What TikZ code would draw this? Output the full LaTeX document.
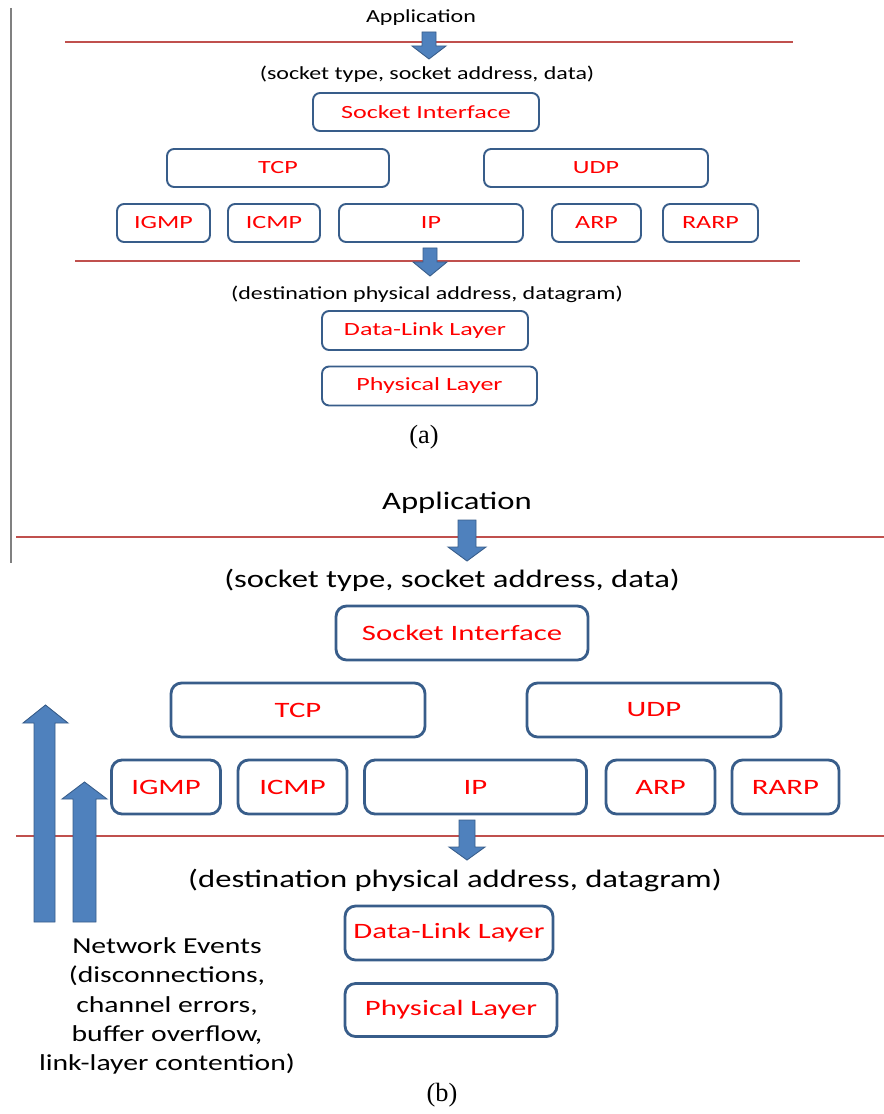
\documentclass[tikz,border=0pt]{standalone}
\usepackage{fontspec}
\setmainfont{Liberation Serif}
\newfontfamily\txtfont{Carlito}[FakeStretch=1.3]
\newfontfamily\boxfont{Carlito}[FakeStretch=1.4]
\definecolor{boxblue}{RGB}{56,93,138}
\definecolor{arrowblue}{RGB}{79,129,189}
\definecolor{arrowedge}{RGB}{56,93,138}
\definecolor{linered}{RGB}{192,80,77}
\tikzset{
  plaina/.style={font=\txtfont\fontsize{10.5}{12}\selectfont},
  plainb/.style={font=\txtfont\fontsize{14.3}{16.7}\selectfont},
  layera/.style={draw=boxblue, line width=1.1pt, rounded corners=4pt, text=red,
    minimum height=0.76cm, inner sep=1pt, font=\boxfont\fontsize{10.6}{12}\selectfont},
  layerb/.style={draw=boxblue, line width=1.6pt, rounded corners=6pt, text=red,
    minimum height=1.08cm, inner sep=1pt, font=\boxfont\fontsize{12.5}{15}\selectfont},
  sepline/.style={linered, line width=1.6pt},
  blockarrow/.style={fill=arrowblue, draw=arrowedge, line width=0.5pt},
  caption/.style={font=\fontsize{15}{17}\selectfont}
}
\begin{document}
\begin{tikzpicture}[x=0.02cm, y=-0.02cm, >=latex]
\useasboundingbox (0,0) rectangle (884,1114);

% (a)
\draw[gray, line width=0.9pt] (11,8) -- (11,563);
\node[plaina] (appA) at (421,18) {Application};
\draw[sepline] (65,42) -- (793,42);
\draw[blockarrow] (422,32) -- (436,32) -- (436,46) -- (446,46) -- (429,59) -- (412,46) -- (422,46) -- cycle;
\node[plaina] (sockA) at (427,74) {(socket type, socket address, data)};
\node[layera, minimum width=4.52cm] (siA) at (426,112) {Socket Interface};
\node[layera, minimum width=4.44cm] (tcpA) at (278,168) {TCP};
\node[layera, minimum width=4.48cm] (udpA) at (596,168) {UDP};
\node[layera, minimum width=1.86cm] (igmpA) at (163.5,223) {IGMP};
\node[layera, minimum width=1.84cm] (icmpA) at (274,223) {ICMP};
\node[layera, minimum width=3.68cm] (ipA) at (431,223) {IP};
\node[layera, minimum width=1.78cm] (arpA) at (596.5,223) {ARP};
\node[layera, minimum width=1.90cm] (rarpA) at (710.5,223) {RARP};
\draw[sepline] (75,261) -- (800,261);
\draw[blockarrow] (423,248) -- (437,248) -- (437,262) -- (447,262) -- (430,276) -- (413,262) -- (423,262) -- cycle;
\node[plaina] (destA) at (427,294) {(destination physical address, datagram)};
\node[layera, minimum width=4.12cm, minimum height=0.78cm] (dlA) at (425,330.5) {Data-Link Layer};
\node[layera, minimum width=4.30cm, minimum height=0.78cm] (physA) at (429.5,386) {Physical Layer};
\node[caption] (capA) at (424,437) {(a)};

% (b)
\node[plainb] (appB) at (457,503) {Application};
\draw[sepline] (16,537) -- (884,537);
\draw[blockarrow] (458,520) -- (476,520) -- (476,547) -- (486,547) -- (467,561) -- (448,547) -- (458,547) -- cycle;
\node[plainb] (sockB) at (452,580) {(socket type, socket address, data)};
\node[layerb, minimum width=5.04cm] (siB) at (462,633) {Socket Interface};
\node[layerb, minimum width=5.08cm] (tcpB) at (298,710) {TCP};
\node[layerb, minimum width=5.08cm] (udpB) at (654,710) {UDP};
\node[layerb, minimum width=2.18cm] (igmpB) at (166,787) {IGMP};
\node[layerb, minimum width=2.18cm] (icmpB) at (292.5,787) {ICMP};
\node[layerb, minimum width=4.44cm] (ipB) at (475.5,787) {IP};
\node[layerb, minimum width=2.18cm] (arpB) at (660.5,787) {ARP};
\node[layerb, minimum width=2.14cm] (rarpB) at (785.5,787) {RARP};
\draw[sepline] (16,836) -- (884,836);
\draw[blockarrow] (459,820) -- (475,820) -- (475,847) -- (485,847) -- (467,860) -- (449,847) -- (459,847) -- cycle;
\node[plainb] (destB) at (455,880) {(destination physical address, datagram)};
\node[layerb, minimum width=4.16cm] (dlB) at (449,933) {Data-Link Layer};
\node[layerb, minimum width=4.24cm, minimum height=1.06cm] (physB) at (451,1010) {Physical Layer};
\draw[blockarrow] (34,922) -- (34,723) -- (23,723) -- (45.5,705) -- (68,723) -- (55,723) -- (55,922) -- cycle;
\draw[blockarrow] (73,922) -- (73,799) -- (62,799) -- (84.5,782) -- (107,799) -- (96,799) -- (96,922) -- cycle;
\node[plainb, align=center, font=\txtfont\fontsize{13}{16.7}\selectfont] (events) at (167,1006)
  {Network Events\\(disconnections,\\channel errors,\\buffer overflow,\\link-layer contention)};
\node[caption] (capB) at (442,1095) {(b)};
\end{tikzpicture}
\end{document}
